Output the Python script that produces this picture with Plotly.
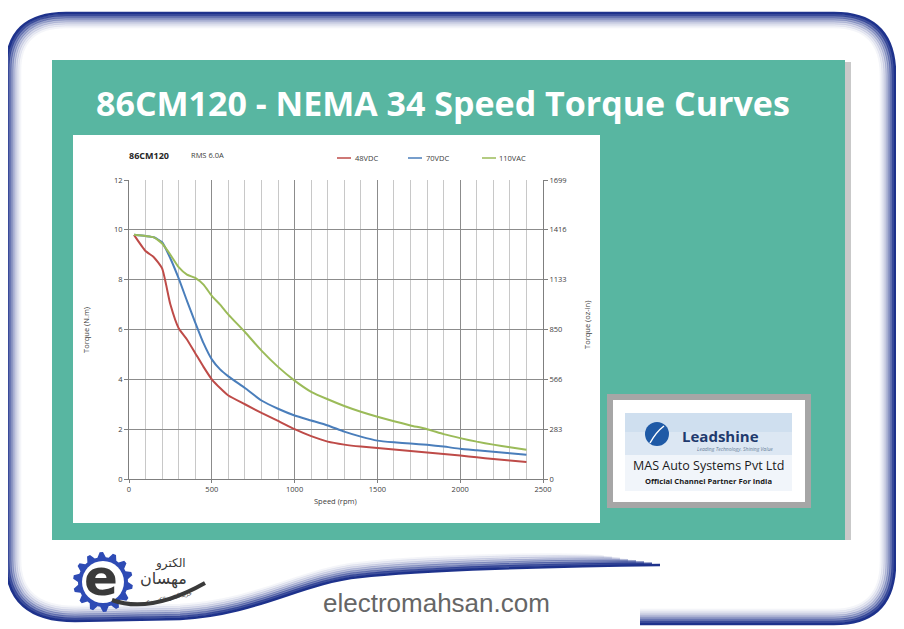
import math
import plotly.graph_objects as go

# ---- data ----
speed_rpm = [30, 100, 150, 200, 250, 300, 350, 400, 450, 500, 550, 600,
             700, 800, 900, 1000, 1100, 1200, 1300, 1400, 1500, 1600,
             1700, 1800, 1900, 2000, 2100, 2200, 2300, 2400]
torque_48vdc = [9.8, 9.15, 8.9, 8.45, 7.0, 6.05, 5.6, 5.05, 4.5, 4.0, 3.65, 3.35,
                3.0, 2.65, 2.33, 2.0, 1.72, 1.5, 1.38, 1.3, 1.24, 1.18,
                1.12, 1.06, 1.0, 0.94, 0.87, 0.8, 0.74, 0.68]
torque_70vdc = [9.8, 9.75, 9.7, 9.5, 8.85, 8.05, 7.15, 6.28, 5.45, 4.8, 4.4, 4.12,
                3.65, 3.15, 2.82, 2.55, 2.35, 2.15, 1.9, 1.7, 1.54, 1.47,
                1.42, 1.37, 1.3, 1.21, 1.15, 1.09, 1.03, 0.97]
torque_110vac = [9.8, 9.75, 9.7, 9.45, 9.0, 8.5, 8.2, 8.07, 7.8, 7.35, 7.0, 6.6,
                 5.9, 5.15, 4.5, 3.95, 3.5, 3.2, 2.93, 2.7, 2.5, 2.32,
                 2.15, 2.0, 1.8, 1.64, 1.5, 1.38, 1.27, 1.17]
series_names = ["48VDC", "70VDC", "110VAC"]
series_colors = ["#BE4B48", "#4A7EBB", "#9BBB59"]

x_ticks = [0, 500, 1000, 1500, 2000, 2500]
ozin_ticks = [0, 283, 566, 850, 1133, 1416, 1699]
NM_TO_OZIN = 141.6

# ---- pixel helpers ----
# page body has an 8px margin, so the figure is drawn 8px in; coordinates
# below are page pixels of the reference and get shifted here.
OFF = 8
FIG_W, FIG_H = 904 - OFF, 629 - OFF
L, R, T, B = 129, 543, 180, 479   # plot area in page pixels
W, H = R - L, B - T


def px(x):
    return (x - L) / W


def py(y):
    return (B - y) / H


def path(cmds):
    out = []
    for c in cmds:
        op, pts = c[0], c[1:]
        coords = []
        for i in range(0, len(pts), 2):
            coords.append(f"{px(pts[i]):.5f},{py(pts[i + 1]):.5f}")
        out.append(op + " " + " ".join(coords))
    return " ".join(out)


def rect(x0, y0, x1, y1, fill, layer="below"):
    return dict(type="rect", xref="paper", yref="paper",
                x0=px(x0), x1=px(x1), y0=py(y1), y1=py(y0),
                fillcolor=fill, line=dict(width=0), layer=layer)


def text(x, y, s, size, color="#404040", xanchor="center", bold=False,
         family="Open Sans", angle=0):
    if bold:
        s = f"<b>{s}</b>"
    return dict(x=px(x), y=py(y), xref="paper", yref="paper", text=s,
                showarrow=False, xanchor=xanchor, yanchor="middle",
                textangle=angle, font=dict(size=size, color=color, family=family))


fig = go.Figure()
for name, vals, col in zip(series_names, [torque_48vdc, torque_70vdc, torque_110vac], series_colors):
    fig.add_trace(go.Scatter(x=speed_rpm, y=vals, name=name, mode="lines",
                             line=dict(color=col, width=2, shape="spline", smoothing=0.5),
                             showlegend=False))
# mirror on oz-in axis (invisible) so the secondary axis is drawn
fig.add_trace(go.Scatter(x=speed_rpm, y=[v * NM_TO_OZIN for v in torque_48vdc],
                         yaxis="y2", mode="lines", line=dict(width=0),
                         opacity=0, showlegend=False, hoverinfo="skip"))

shapes = []
annotations = []

# outer blue frame with fading inner edge
alphas = [1, 0.85, 0.62, 0.45, 0.3, 0.19, 0.11, 0.05]
for i, a in enumerate(alphas):
    d = i * 2
    cmds = [("M", 660 - d * 4, 565 - d * 0.6),
            ("C", 560, 566 - d, 420, 570 - d, 360, 577 - d),
            ("C", 300, 583 - d, 260, 614 - d, 180, 619 - d),
            ("L", 75, 621 - d),
            ("Q", 6 + d, 621 - d, 6 + d, 560),
            ("L", 6 + d, 70),
            ("Q", 6 + d, 13 + d, 66, 13 + d),
            ("L", 834, 13 + d),
            ("Q", 895 - d, 13 + d, 895 - d, 75),
            ("L", 895 - d, 562),
            ("Q", 895 - d, 624 - d, 834, 624 - d),
            ("L", 640, 624 - d)]
    shapes.append(dict(type="path", xref="paper", yref="paper", path=path(cmds),
                       line=dict(color=f"rgba(30,50,140,{a})", width=2.6),
                       layer="below"))

# teal panel + shadow, white chart card
shapes.append(rect(844, 62, 851, 540, "#C9C9C9"))
shapes.append(rect(52, 60, 845, 540, "#58B6A1"))
shapes.append(rect(73, 135, 600, 523, "#FFFFFF"))

# partner box
shapes.append(rect(607, 394, 811, 508, "#A6A6A6"))
shapes.append(rect(613, 400, 805, 502, "#FFFFFF"))
shapes.append(rect(625, 413, 792, 491, "#F1F5FA"))
shapes.append(rect(625, 413, 792, 455, "#DCE7F3"))
shapes.append(rect(625, 413, 792, 432, "#CFDFEF"))
shapes.append(dict(type="circle", xref="paper", yref="paper",
                   x0=px(645), x1=px(669), y0=py(446), y1=py(422),
                   fillcolor="#1F5AA6", line=dict(width=0), layer="below"))
shapes.append(dict(type="path", xref="paper", yref="paper",
                   path=path([("M", 650, 443), ("Q", 656, 432, 664, 426)]),
                   line=dict(color="white", width=1.5), layer="below"))

# legend samples
for x0, col in zip([337, 408, 482], series_colors):
    shapes.append(dict(type="line", xref="paper", yref="paper",
                       x0=px(x0), x1=px(x0 + 14), y0=py(158), y1=py(158),
                       line=dict(color=col, width=1.5)))
for x0, name in zip([353, 424, 497], series_names):
    annotations.append(text(x0, 158, name, 7.5, xanchor="left"))

# gear logo
cx, cy, n_teeth = 103, 582, 14
gear = []
for k in range(n_teeth * 4):
    ang = 2 * math.pi * k / (n_teeth * 4)
    r = 30 if k % 4 in (1, 2) else 25
    gear.append(("M" if k == 0 else "L", cx + r * math.cos(ang), cy + r * math.sin(ang)))
gear.append(("Z",))
shapes.append(dict(type="path", xref="paper", yref="paper", path=path(gear),
                   fillcolor="#2E4BB5", line=dict(width=0), layer="below"))
shapes.append(dict(type="circle", xref="paper", yref="paper",
                   x0=px(cx - 21), x1=px(cx + 21), y0=py(cy + 21), y1=py(cy - 21),
                   fillcolor="white", line=dict(width=0), layer="below"))
shapes.append(dict(type="path", xref="paper", yref="paper",
                   path=path([("M", 112, 600), ("Q", 150, 614, 205, 583)]),
                   line=dict(color="#3A3A3A", width=4), layer="below"))

annotations += [
    text(443, 103, "86CM120 - NEMA 34 Speed Torque Curves", 34, "white", bold=True),
    text(127, 155, "86CM120", 9, "#262626", xanchor="left", bold=True),
    text(189, 155, "RMS 6.0A", 7.5, xanchor="left"),
    text(86, 330, "Torque (N.m)", 7.5, angle=-90),
    text(587, 325, "Torque (oz-in)", 7.5, angle=-90),
    text(335, 501, "Speed (rpm)", 7.5),
    text(680, 436, "Leadshine", 15, "#1F3A6E", xanchor="left", bold=True),
    text(735, 449, "<i>Leading Technology. Shining Value</i>", 5, "#6A7F99"),
    text(708, 465, "MAS Auto Systems Pvt Ltd", 12.5, "#1A1A1A"),
    text(708, 481, "Official Channel Partner For India", 7.6, "#1A1A1A", bold=True),
    text(436, 603, "electromahsan.com", 26, "#666666", family="Liberation Sans"),
    text(101, 578, "e", 50, "#3A3A3A", bold=True, family="DejaVu Sans"),
    text(170, 563, "الکترو", 12, "#3A3A3A", family="DejaVu Sans"),
    text(163, 579, "مهسان", 16, "#3A3A3A", family="DejaVu Sans"),
    text(168, 598, "خرید آنلاین الکترونیک", 5.5, "#3A3A3A", family="DejaVu Sans", angle=-12),
]

axis_font = dict(size=7.5, color="#404040", family="Open Sans")
fig.update_layout(
    width=FIG_W, height=FIG_H, autosize=False,
    margin=dict(l=L - OFF, r=904 - R, t=T - OFF, b=629 - B),
    paper_bgcolor="white", plot_bgcolor="rgba(0,0,0,0)",
    showlegend=False,
    xaxis=dict(range=[0, 2500], tickvals=x_ticks, showgrid=True,
               gridcolor="#8C8C8C", gridwidth=1,
               minor=dict(dtick=100, showgrid=True, gridcolor="#C8C8C8", gridwidth=1),
               showline=True, linecolor="#7F7F7F", ticks="outside", ticklen=3,
               tickcolor="#7F7F7F", zeroline=False, tickfont=axis_font),
    yaxis=dict(range=[0, 12], dtick=2, showgrid=True, gridcolor="#8C8C8C",
               showline=True, linecolor="#7F7F7F", ticks="outside", ticklen=4,
               tickcolor="#7F7F7F", zeroline=False, tickfont=axis_font),
    yaxis2=dict(range=[0, 1699], overlaying="y", side="right", tickvals=ozin_ticks,
                showgrid=False, showline=True, linecolor="#7F7F7F", ticks="outside",
                ticklen=4, tickcolor="#7F7F7F", zeroline=False, tickfont=axis_font),
    shapes=shapes,
    annotations=annotations,
)

fig.write_html("out.html")
